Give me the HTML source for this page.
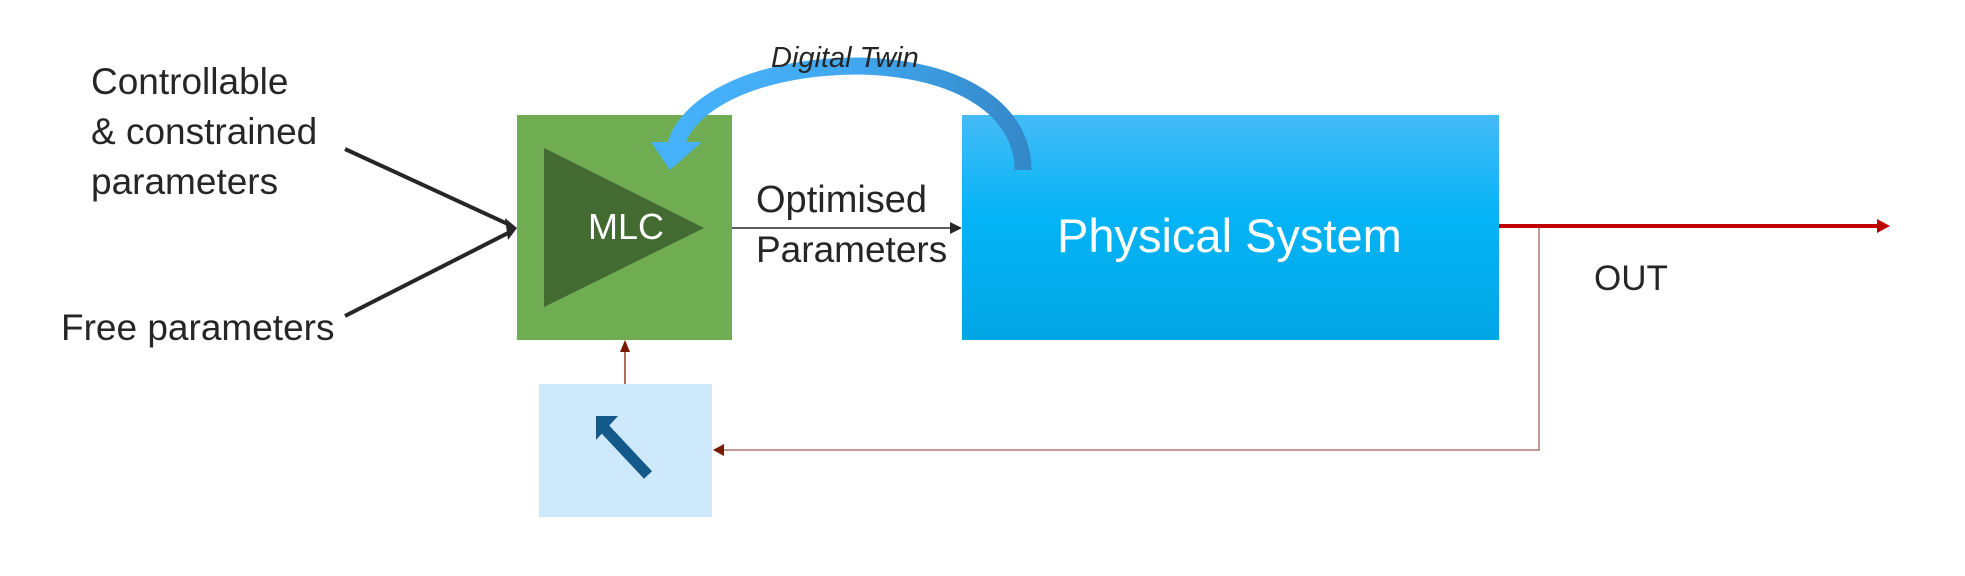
<!DOCTYPE html>
<html><head><meta charset="utf-8"><style>
body{margin:0;width:1965px;height:576px;background:#fff;overflow:hidden;position:relative;font-family:"Liberation Sans",sans-serif;color:#262626}
.t{position:absolute;font-size:37px;white-space:nowrap;line-height:1}
</style></head><body>
<svg width="1965" height="576" style="position:absolute;left:0;top:0">
<defs>
<linearGradient id="pg" x1="0" y1="0" x2="0" y2="1"><stop offset="0" stop-color="#45bbf7"/><stop offset="0.45" stop-color="#04b4f6"/><stop offset="1" stop-color="#02a6e4"/></linearGradient>
<linearGradient id="ag" x1="0" y1="0" x2="1" y2="0"><stop offset="0" stop-color="#45b2fb"/><stop offset="0.5" stop-color="#42a8f0"/><stop offset="1" stop-color="#3388c8"/></linearGradient>
</defs>
<rect x="517" y="115" width="215" height="225" fill="#70ad52"/>
<polygon points="544,148 704,228 544,307" fill="#436a31"/>
<rect x="962" y="115" width="537" height="225" fill="url(#pg)"/>
<rect x="539" y="384" width="173" height="133" fill="#cfe9fc"/>
<path d="M1023,170 C1023,110 960,68 860,66 C760,66 690,100 676,144" fill="none" stroke="url(#ag)" stroke-width="17"/>
<polygon points="651,142 702,142 670,170" fill="#45b2fb"/>
<line x1="345" y1="149" x2="510" y2="225" stroke="#262626" stroke-width="4"/>
<line x1="345" y1="316" x2="510" y2="232" stroke="#262626" stroke-width="4"/>
<polygon points="517,228 505,218 508,240" fill="#262626"/>
<line x1="732" y1="228" x2="955" y2="228" stroke="#262626" stroke-width="1.5"/>
<polygon points="962,228 950,222 950,234" fill="#262626"/>
<line x1="1499" y1="226" x2="1880" y2="226" stroke="#c00000" stroke-width="4"/>
<polygon points="1890,226 1877,219 1877,233" fill="#c00000"/>
<polyline points="1539,228 1539,450 722,450" fill="none" stroke="#b07a70" stroke-width="1.5"/>
<polygon points="713,450 724,444 724,456" fill="#7a1a00"/>
<line x1="625" y1="384" x2="625" y2="350" stroke="#9a3a2a" stroke-width="1.5"/>
<polygon points="625,340 620,352 630,352" fill="#7a1a00"/>
<line x1="648" y1="475" x2="604" y2="428" stroke="#135a8a" stroke-width="11"/>
<polygon points="596,416 618,416 596,440" fill="#135a8a"/>
</svg>
<div class="t" style="left:91px;top:63px">Controllable</div>
<div class="t" style="left:91px;top:113px">&amp; constrained</div>
<div class="t" style="left:91px;top:163px">parameters</div>
<div class="t" style="left:61px;top:309px">Free parameters</div>
<div class="t" style="left:588px;top:209px;color:#fff;font-size:36px">MLC</div>
<div class="t" style="left:756px;top:181px;font-size:38px">Optimised</div>
<div class="t" style="left:756px;top:231px;font-size:37px">Parameters</div>
<div class="t" style="left:1057px;top:212px;color:#fff;font-size:47px">Physical System</div>
<div class="t" style="left:1594px;top:261px;font-size:35px">OUT</div>
<div class="t" style="left:771px;top:44px;font-size:29px;font-style:italic">Digital Twin</div>
</body></html>
